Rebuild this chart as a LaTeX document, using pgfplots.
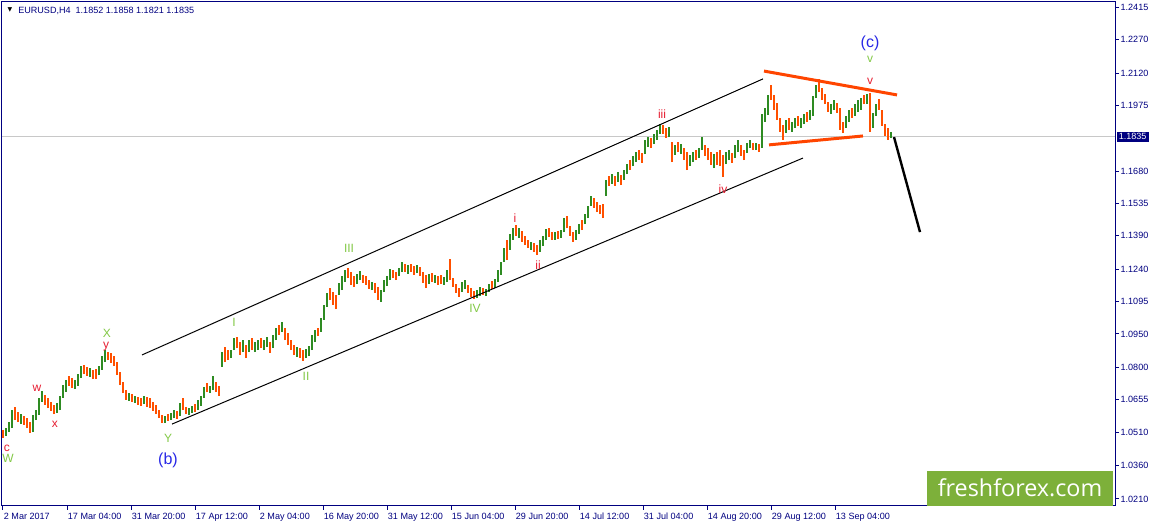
\documentclass[border=0pt]{standalone}
\usepackage{fontspec}
\setmainfont{Liberation Sans}
\newfontfamily\wmfont{Open Sans}
\newfontfamily\symfont{DejaVu Sans}
\usepackage{pgfplots}
\usepackage{pgfplotstable}
\pgfplotsset{compat=1.18}
\definecolor{mtnavy}{RGB}{0,0,128}
\definecolor{upc}{RGB}{46,139,34}
\definecolor{dnc}{RGB}{255,80,0}
\definecolor{trendor}{RGB}{255,69,0}
\definecolor{lblg}{RGB}{130,200,70}
\definecolor{lblr}{RGB}{230,30,50}
\definecolor{lblb}{RGB}{40,40,230}
\definecolor{wmgreen}{RGB}{125,176,58}
\definecolor{pline}{RGB}{200,200,200}

\pgfplotstableread{
x lo hi
6 1.0493 1.0528
9 1.0510 1.0555
12 1.0528 1.0609
21 1.0546 1.0591
33 1.0510 1.0587
36 1.0564 1.0609
39 1.0587 1.0663
42 1.0645 1.0694
57 1.0596 1.0641
60 1.0609 1.0672
63 1.0663 1.0721
66 1.0690 1.0744
75 1.0703 1.0744
78 1.0717 1.0771
81 1.0753 1.0806
90 1.0757 1.0797
99 1.0766 1.0806
102 1.0789 1.0851
105 1.0824 1.0878
129 1.0650 1.0685
135 1.0641 1.0672
144 1.0636 1.0672
165 1.0551 1.0582
171 1.0564 1.0596
174 1.0573 1.0609
180 1.0582 1.0641
189 1.0587 1.0618
192 1.0596 1.0627
198 1.0609 1.0654
201 1.0627 1.0672
204 1.0663 1.0712
210 1.0685 1.0717
213 1.0699 1.0762
222 1.0802 1.0869
231 1.0842 1.0878
234 1.0878 1.0932
243 1.0869 1.0923
249 1.0869 1.0923
255 1.0869 1.0914
258 1.0878 1.0923
264 1.0878 1.0923
267 1.0892 1.0937
273 1.0887 1.0946
276 1.0923 1.0977
282 1.0959 1.1004
297 1.0847 1.0892
306 1.0842 1.0883
309 1.0851 1.0896
312 1.0878 1.0946
315 1.0914 1.0968
321 1.0959 1.1022
324 1.1013 1.1080
327 1.1071 1.1134
339 1.1125 1.1179
342 1.1147 1.1210
345 1.1183 1.1237
357 1.1174 1.1219
360 1.1192 1.1232
372 1.1147 1.1183
381 1.1094 1.1147
384 1.1138 1.1192
387 1.1165 1.1210
390 1.1192 1.1241
399 1.1210 1.1246
402 1.1228 1.1273
408 1.1219 1.1259
417 1.1224 1.1259
429 1.1174 1.1219
435 1.1179 1.1215
444 1.1170 1.1206
447 1.1183 1.1237
462 1.1138 1.1183
465 1.1152 1.1192
477 1.1111 1.1147
480 1.1120 1.1161
486 1.1120 1.1152
489 1.1138 1.1174
495 1.1156 1.1197
498 1.1183 1.1237
501 1.1215 1.1273
504 1.1273 1.1336
510 1.1327 1.1398
513 1.1372 1.1425
519 1.1381 1.1425
531 1.1327 1.1363
540 1.1318 1.1372
543 1.1345 1.1390
546 1.1372 1.1421
555 1.1372 1.1407
561 1.1381 1.1416
564 1.1407 1.1470
576 1.1372 1.1416
579 1.1398 1.1443
585 1.1443 1.1488
588 1.1470 1.1524
591 1.1524 1.1569
606 1.1569 1.1641
612 1.1623 1.1667
618 1.1632 1.1676
624 1.1641 1.1685
627 1.1667 1.1712
633 1.1703 1.1748
636 1.1721 1.1766
645 1.1757 1.1820
648 1.1789 1.1833
654 1.1802 1.1847
657 1.1820 1.1865
660 1.1847 1.1892
669 1.1833 1.1878
675 1.1753 1.1798
681 1.1757 1.1802
690 1.1703 1.1753
693 1.1721 1.1766
699 1.1739 1.1784
702 1.1775 1.1833
714 1.1694 1.1757
726 1.1712 1.1766
729 1.1730 1.1775
735 1.1739 1.1798
738 1.1766 1.1820
747 1.1762 1.1807
750 1.1784 1.1820
756 1.1775 1.1807
762 1.1784 1.1937
765 1.1901 1.1964
768 1.1932 1.2022
786 1.1851 1.1910
792 1.1856 1.1901
795 1.1874 1.1919
801 1.1874 1.1919
804 1.1892 1.1937
810 1.1910 1.1955
813 1.1928 1.2017
816 1.2008 1.2067
831 1.1937 1.1981
834 1.1955 1.1999
846 1.1874 1.1928
849 1.1901 1.1955
855 1.1928 1.1981
858 1.1946 1.1999
861 1.1955 1.2008
867 1.1981 1.2026
873 1.1874 1.1941
876 1.1928 1.1981
891 1.1829 1.1856
}\upbars

\pgfplotstableread{
x lo hi
3 1.0484 1.0519
15 1.0564 1.0623
18 1.0555 1.0600
24 1.0542 1.0582
27 1.0528 1.0573
30 1.0506 1.0555
45 1.0632 1.0676
48 1.0618 1.0663
51 1.0605 1.0645
54 1.0591 1.0632
69 1.0717 1.0762
72 1.0708 1.0753
84 1.0771 1.0811
87 1.0762 1.0802
93 1.0748 1.0789
96 1.0748 1.0793
108 1.0833 1.0869
111 1.0820 1.0865
114 1.0806 1.0851
117 1.0766 1.0824
120 1.0721 1.0780
123 1.0685 1.0735
126 1.0654 1.0699
132 1.0645 1.0681
138 1.0632 1.0668
141 1.0627 1.0663
147 1.0623 1.0668
150 1.0618 1.0663
153 1.0605 1.0645
156 1.0591 1.0632
159 1.0573 1.0609
162 1.0551 1.0587
168 1.0560 1.0591
177 1.0569 1.0605
183 1.0609 1.0663
186 1.0591 1.0623
195 1.0600 1.0636
207 1.0690 1.0730
216 1.0690 1.0735
219 1.0672 1.0717
225 1.0824 1.0892
228 1.0833 1.0878
237 1.0887 1.0937
240 1.0856 1.0914
246 1.0842 1.0901
252 1.0878 1.0932
261 1.0887 1.0932
270 1.0865 1.0914
279 1.0946 1.0990
285 1.0923 1.0977
288 1.0901 1.0954
291 1.0878 1.0923
294 1.0856 1.0901
300 1.0842 1.0887
303 1.0829 1.0878
318 1.0941 1.0977
330 1.1102 1.1156
333 1.1080 1.1138
336 1.1062 1.1125
348 1.1201 1.1246
351 1.1170 1.1228
354 1.1161 1.1210
363 1.1179 1.1215
366 1.1170 1.1210
369 1.1152 1.1192
375 1.1134 1.1179
378 1.1102 1.1161
393 1.1201 1.1237
396 1.1192 1.1228
405 1.1228 1.1264
411 1.1228 1.1264
414 1.1215 1.1255
420 1.1210 1.1250
423 1.1179 1.1228
426 1.1156 1.1215
432 1.1183 1.1224
438 1.1170 1.1210
441 1.1174 1.1215
450 1.1192 1.1286
453 1.1161 1.1201
456 1.1134 1.1174
459 1.1116 1.1156
468 1.1134 1.1170
471 1.1116 1.1156
474 1.1107 1.1143
483 1.1125 1.1156
492 1.1152 1.1188
507 1.1282 1.1372
516 1.1390 1.1439
522 1.1363 1.1412
525 1.1349 1.1390
528 1.1336 1.1372
534 1.1318 1.1358
537 1.1304 1.1349
549 1.1385 1.1425
552 1.1372 1.1407
558 1.1376 1.1412
567 1.1425 1.1479
570 1.1390 1.1434
573 1.1363 1.1407
582 1.1416 1.1461
594 1.1515 1.1560
597 1.1497 1.1542
600 1.1488 1.1528
603 1.1470 1.1533
609 1.1614 1.1659
615 1.1614 1.1659
621 1.1618 1.1663
630 1.1685 1.1730
639 1.1730 1.1775
642 1.1717 1.1762
651 1.1784 1.1829
663 1.1847 1.1887
666 1.1829 1.1874
672 1.1721 1.1811
678 1.1766 1.1811
684 1.1730 1.1784
687 1.1685 1.1766
696 1.1730 1.1775
705 1.1748 1.1798
708 1.1730 1.1784
711 1.1708 1.1766
717 1.1708 1.1766
720 1.1703 1.1775
723 1.1654 1.1753
732 1.1717 1.1762
741 1.1748 1.1798
744 1.1730 1.1775
753 1.1775 1.1807
759 1.1766 1.1802
771 1.1999 1.2067
774 1.1955 1.2022
777 1.1910 1.1986
780 1.1856 1.1919
783 1.1820 1.1887
789 1.1865 1.1919
798 1.1883 1.1928
807 1.1901 1.1946
819 1.2035 1.2094
822 1.1999 1.2053
825 1.1981 1.2026
828 1.1946 1.1990
837 1.1941 1.1986
840 1.1865 1.1964
843 1.1851 1.1901
852 1.1919 1.1964
864 1.1981 1.2022
870 1.1856 1.2031
879 1.1955 1.2004
882 1.1883 1.1955
885 1.1838 1.1892
888 1.1820 1.1874
}\dnbars

\begin{document}
\begin{tikzpicture}
\useasboundingbox (0,0) rectangle (866.25pt,395.25pt);
\begin{axis}[
  at={(1.5pt,15.75pt)}, anchor=south west,
  scale only axis, width=834.75pt, height=378pt,
  xmin=2, xmax=1115, ymin=1.01786, ymax=1.24388,
  clip=false,
  axis line style={draw=mtnavy, line width=0.75pt},
  tick style={draw=mtnavy, line width=0.75pt},
  tick align=outside, major tick length=3pt,
  xtick pos=bottom, ytick pos=right, yticklabel pos=right,
  scaled ticks=false,
  xtick={3,67,131,195,259,323,387,451,515,579,643,707,771,835},
  xticklabels={2 Mar 2017,17 Mar 04:00,31 Mar 20:00,17 Apr 12:00,2 May 04:00,16 May 20:00,31 May 12:00,15 Jun 04:00,29 Jun 20:00,14 Jul 12:00,31 Jul 04:00,14 Aug 20:00,29 Aug 12:00,13 Sep 04:00},
  ytick={1.2415,1.2270,1.2120,1.1975,1.1680,1.1535,1.1390,1.1240,1.1095,1.0950,1.0800,1.0655,1.0510,1.0360,1.0210},
  yticklabels={1.2415,1.2270,1.2120,1.1975,1.1680,1.1535,1.1390,1.1240,1.1095,1.0950,1.0800,1.0655,1.0510,1.0360,1.0210},
  xticklabel style={font=\fontsize{6.8}{8}\selectfont, text=mtnavy, anchor=north west, inner sep=0pt, xshift=0.5pt, yshift=-2pt},
  yticklabel style={font=\fontsize{6.8}{8}\selectfont, text=mtnavy, anchor=west, inner sep=0pt, xshift=1pt},
  /pgf/number format/assume math mode=true,
]
% current price line
\addplot[forget plot, pline, line width=0.75pt] coordinates {(2,1.1835) (1115,1.1835)};

% bars
\addplot[forget plot, draw=none, mark=none,
  error bars/.cd, y dir=plus, y explicit, error mark=none,
  error bar style={draw=upc, line width=1.9pt}]
  table[x=x, y=lo, y error plus expr=\thisrow{hi}-\thisrow{lo}] {\upbars};
\addplot[forget plot, draw=none, mark=none,
  error bars/.cd, y dir=plus, y explicit, error mark=none,
  error bar style={draw=dnc, line width=1.9pt}]
  table[x=x, y=lo, y error plus expr=\thisrow{hi}-\thisrow{lo}] {\dnbars};

% channel lines
\addplot[forget plot, black, line width=0.75pt] coordinates {(142,1.0856) (763,1.2094)};
\addplot[forget plot, black, line width=0.75pt] coordinates {(172,1.0546) (803,1.1739)};
% triangle lines
\addplot[forget plot, trendor, line width=2.25pt] coordinates {(764,1.2129) (897,1.2022)};
\addplot[forget plot, trendor, line width=2.25pt] coordinates {(769,1.1798) (863,1.1838)};
% forecast
\addplot[forget plot, black, line width=1.8pt] coordinates {(894,1.1833) (920,1.1407)};

% wave labels
\begin{scope}[every node/.style={font=\fontsize{9}{10}\selectfont, inner sep=0pt, anchor=center}]
\node[text=lblb, font=\fontsize{12}{14}\selectfont] at (axis cs:870,1.2255) {(c)};
\node[text=lblg] at (axis cs:870,1.2183) {v};
\node[text=lblr] at (axis cs:870,1.2085) {v};
\node[text=lblr] at (axis cs:662,1.1937) {iii};
\node[text=lblr] at (axis cs:723,1.1600) {iv};
\node[text=lblr] at (axis cs:515,1.1470) {i};
\node[text=lblr] at (axis cs:538,1.1259) {ii};
\node[text=lblg] at (axis cs:475,1.1067) {IV};
\node[text=lblg] at (axis cs:349,1.1336) {III};
\node[text=lblg] at (axis cs:234,1.1004) {I};
\node[text=lblg] at (axis cs:306,1.0762) {II};
\node[text=lblg] at (axis cs:107,1.0953) {X};
\node[text=lblr] at (axis cs:106,1.0893) {y};
\node[text=lblr] at (axis cs:37,1.0708) {w};
\node[text=lblr] at (axis cs:55,1.0546) {x};
\node[text=lblr] at (axis cs:7,1.0437) {c};
\node[text=lblg] at (axis cs:8,1.0390) {W};
\node[text=lblg] at (axis cs:168,1.0484) {Y};
\node[text=lblb, font=\fontsize{12}{14}\selectfont] at (axis cs:168,1.0385) {(b)};
\end{scope}

% title
\node[anchor=center, inner sep=0pt, font=\symfont\fontsize{4.5}{5}\selectfont] at (axis cs:10,1.2403) {▼};
\node[anchor=west, inner sep=0pt, text=mtnavy, font=\fontsize{6.8}{8}\selectfont] at (axis cs:18,1.2398) {EURUSD,H4\ \ 1.1852 1.1858 1.1821 1.1835};

% current price box
\node[anchor=west, fill=mtnavy, text=white, inner xsep=1.5pt, inner ysep=1pt, minimum height=7.5pt, font=\fontsize{6.8}{8}\selectfont] at (axis cs:1116.5,1.1835) {1.1835};

% watermark
\fill[wmgreen] (axis cs:927,1.0336) rectangle (axis cs:1113,1.01786);
\node[text=white, inner sep=0pt, font=\wmfont\fontsize{17.5}{20}\selectfont] at (axis cs:1020,1.0262) {freshforex.com};
\end{axis}
\end{tikzpicture}
\end{document}
